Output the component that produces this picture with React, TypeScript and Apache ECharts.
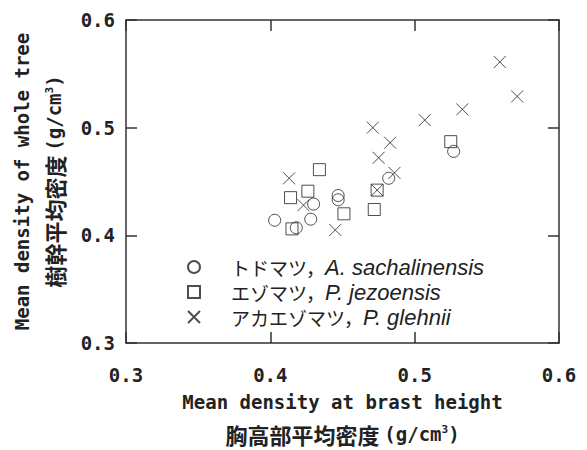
import React, { useEffect, useRef } from "react";
import * as echarts from "echarts";

const xTicks = [0.3, 0.4, 0.5, 0.6];
const yTicks = [0.3, 0.4, 0.5, 0.6];

const seriesNames = ["トドマツ", "エゾマツ", "アカエゾマツ"];
const latinNames = ["A. sachalinensis", "P. jezoensis", "P. glehnii"];

const todoX = [0.403, 0.418, 0.428, 0.430, 0.447, 0.447, 0.482, 0.527];
const todoY = [0.414, 0.407, 0.415, 0.429, 0.437, 0.433, 0.453, 0.478];
const ezoX = [0.414, 0.426, 0.434, 0.415, 0.451, 0.472, 0.474, 0.525];
const ezoY = [0.435, 0.441, 0.461, 0.406, 0.420, 0.424, 0.442, 0.487];
const akaX = [0.413, 0.423, 0.445, 0.471, 0.483, 0.475, 0.486, 0.474, 0.507, 0.533, 0.559, 0.571];
const akaY = [0.453, 0.428, 0.405, 0.500, 0.486, 0.472, 0.458, 0.442, 0.507, 0.517, 0.561, 0.529];

const INK = "#222";
const MONO = "'DejaVu Sans Mono', monospace";
const CJK = "'Noto Sans CJK JP', sans-serif";
const CROSS = "path://M0,0L10,10M0,10L10,0";

const zip = (xs: number[], ys: number[]) => xs.map((x, i) => [x, ys[i]]);

export default function App() {
  const ref = useRef<HTMLDivElement>(null);
  useEffect(() => {
    if (!ref.current) return;
    document.body.style.margin = "0";
    const chart = echarts.init(ref.current, undefined, { renderer: "svg" });
    const mkAxis = (extra: any) => ({
      type: "value",
      min: xTicks[0],
      max: xTicks[xTicks.length - 1],
      interval: 0.1,
      splitLine: { show: false },
      axisLine: { show: true, lineStyle: { color: "#333", width: 1.5 } },
      axisTick: { show: true, inside: true, length: 11, lineStyle: { color: "#333", width: 1.5 } },
      ...extra,
    });
    const symbols = ["circle", "rect", CROSS];
    const datas = [zip(todoX, todoY), zip(ezoX, ezoY), zip(akaX, akaY)];
    const sizes = [12, 12, 12];
    const titleRich = (lh: number) => ({
      a: { fontFamily: MONO, fontWeight: "bold", fontSize: 19, color: INK, lineHeight: lh },
      b: { fontFamily: CJK, fontWeight: "bold", fontSize: 22, color: INK, lineHeight: lh },
      c: { fontFamily: MONO, fontWeight: "bold", fontSize: 19, color: INK, lineHeight: lh },
      s: { fontFamily: MONO, fontWeight: "bold", fontSize: 11, color: INK, padding: [0, 0, 10, 0] },
    });
    const option: any = {
      animation: false,
      backgroundColor: "#fff",
      grid: { left: 126, right: 28, top: 20, bottom: 107, containLabel: false },
      xAxis: [
        mkAxis({
          position: "bottom",
          axisLabel: {
            margin: 22,
            fontFamily: MONO,
            fontWeight: "bold",
            fontSize: 19,
            color: INK,
            formatter: (v: number) => v.toFixed(1),
          },
          name: "{a|Mean density at brast height}\n{b|胸高部平均密度 }{c|(g/cm}{s|3}{c|)}",
          nameLocation: "middle",
          nameGap: 43,
          nameTextStyle: { rich: titleRich(32) },
        }),
        mkAxis({ position: "top", axisLabel: { show: false } }),
      ],
      yAxis: [
        mkAxis({
          position: "left",
          min: yTicks[0],
          max: yTicks[yTicks.length - 1],
          axisLabel: {
            margin: 11,
            fontFamily: MONO,
            fontWeight: "bold",
            fontSize: 19,
            color: INK,
            formatter: (v: number) => v.toFixed(1),
          },
          name: "{a|Mean density of whole tree}\n{b|樹幹平均密度 }{c|(g/cm}{s|3}{c|)}",
          nameLocation: "middle",
          nameRotate: 90,
          nameGap: 56,
          nameTextStyle: { rich: titleRich(32) },
        }),
        mkAxis({ position: "right", axisLabel: { show: false } }),
      ],
      legend: {
        orient: "vertical",
        left: 182,
        top: 251,
        itemWidth: 12,
        itemHeight: 12,
        itemGap: 3,
        data: seriesNames.map((n, i) => ({ name: n, icon: symbols[i] })),
        formatter: (name: string) => {
          const i = seriesNames.indexOf(name);
          return `{j|${name}，}{l|${latinNames[i]}}`;
        },
        textStyle: {
          padding: [0, 0, 0, 26],
          rich: {
            j: { fontFamily: CJK, fontSize: 19, color: INK, lineHeight: 25 },
            l: { fontFamily: "'Liberation Sans', Arial, sans-serif", fontStyle: "italic", fontSize: 22, color: INK, lineHeight: 25 },
          },
        },
      },
      series: seriesNames.map((n, i) => ({
        name: n,
        type: "scatter",
        xAxisIndex: 0,
        yAxisIndex: 0,
        symbol: symbols[i],
        symbolSize: sizes[i],
        data: datas[i],
        itemStyle: { color: "rgba(0,0,0,0)", borderColor: INK, borderWidth: 1 },
        emphasis: { disabled: true },
      })),
    };
    chart.setOption(option);
    return () => chart.dispose();
  }, []);
  return <div ref={ref} style={{ width: 587, height: 450 }} />;
}
